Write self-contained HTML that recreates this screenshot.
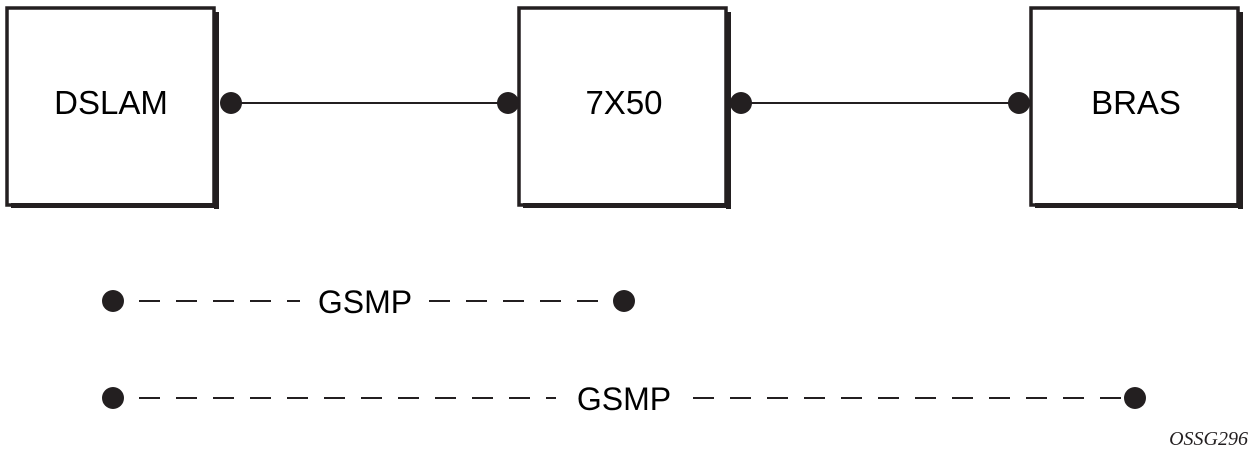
<!DOCTYPE html>
<html><head><style>
body{margin:0;background:#fff;}
svg{display:block}
</style></head><body>
<svg width="1254" height="454" viewBox="0 0 1254 454" xmlns="http://www.w3.org/2000/svg">
<g fill="#fff" stroke="#231f20" stroke-width="3.5">
<rect x="7" y="8" width="207" height="197"/>
<rect x="519" y="8" width="207" height="197"/>
<rect x="1031" y="8" width="207" height="197"/>
</g>
<g fill="#231f20">
<rect x="214" y="12" width="5" height="197"/><rect x="11" y="203" width="208" height="5"/>
<rect x="726" y="12" width="5" height="197"/><rect x="523" y="203" width="208" height="5"/>
<rect x="1238" y="12" width="5" height="197"/><rect x="1035" y="203" width="208" height="5"/>
</g>
<g stroke="#231f20" stroke-width="2">
<line x1="230" y1="103" x2="508" y2="103"/>
<line x1="741" y1="103" x2="1019" y2="103"/>
</g>
<g fill="#231f20">
<circle cx="231" cy="103" r="11"/><circle cx="508" cy="103" r="11"/>
<circle cx="741" cy="103" r="11"/><circle cx="1019" cy="103" r="11"/>
<circle cx="113" cy="301" r="11"/><circle cx="624" cy="301" r="11"/>
<circle cx="113" cy="398" r="11"/><circle cx="1135" cy="398" r="11"/>
</g>
<g stroke="#231f20" stroke-width="2" stroke-dasharray="21 16">
<line x1="139" y1="301" x2="300" y2="301"/>
<line x1="429" y1="301" x2="614" y2="301"/>
<line x1="139" y1="398" x2="556" y2="398"/>
<line x1="693" y1="398" x2="1125" y2="398"/>
</g>
<g font-family="Liberation Sans, sans-serif" fill="#000" text-anchor="middle">
<text x="111" y="114" font-size="33">DSLAM</text>
<text x="624" y="114" font-size="33">7X50</text>
<text x="1136" y="114" font-size="33">BRAS</text>
<text x="365" y="313" font-size="32">GSMP</text>
<text x="624" y="410" font-size="32">GSMP</text>
</g>
<text x="1248" y="445" text-anchor="end" font-family="Liberation Serif, serif" font-style="italic" font-size="20" fill="#231f20">OSSG296</text>
</svg>
</body></html>
